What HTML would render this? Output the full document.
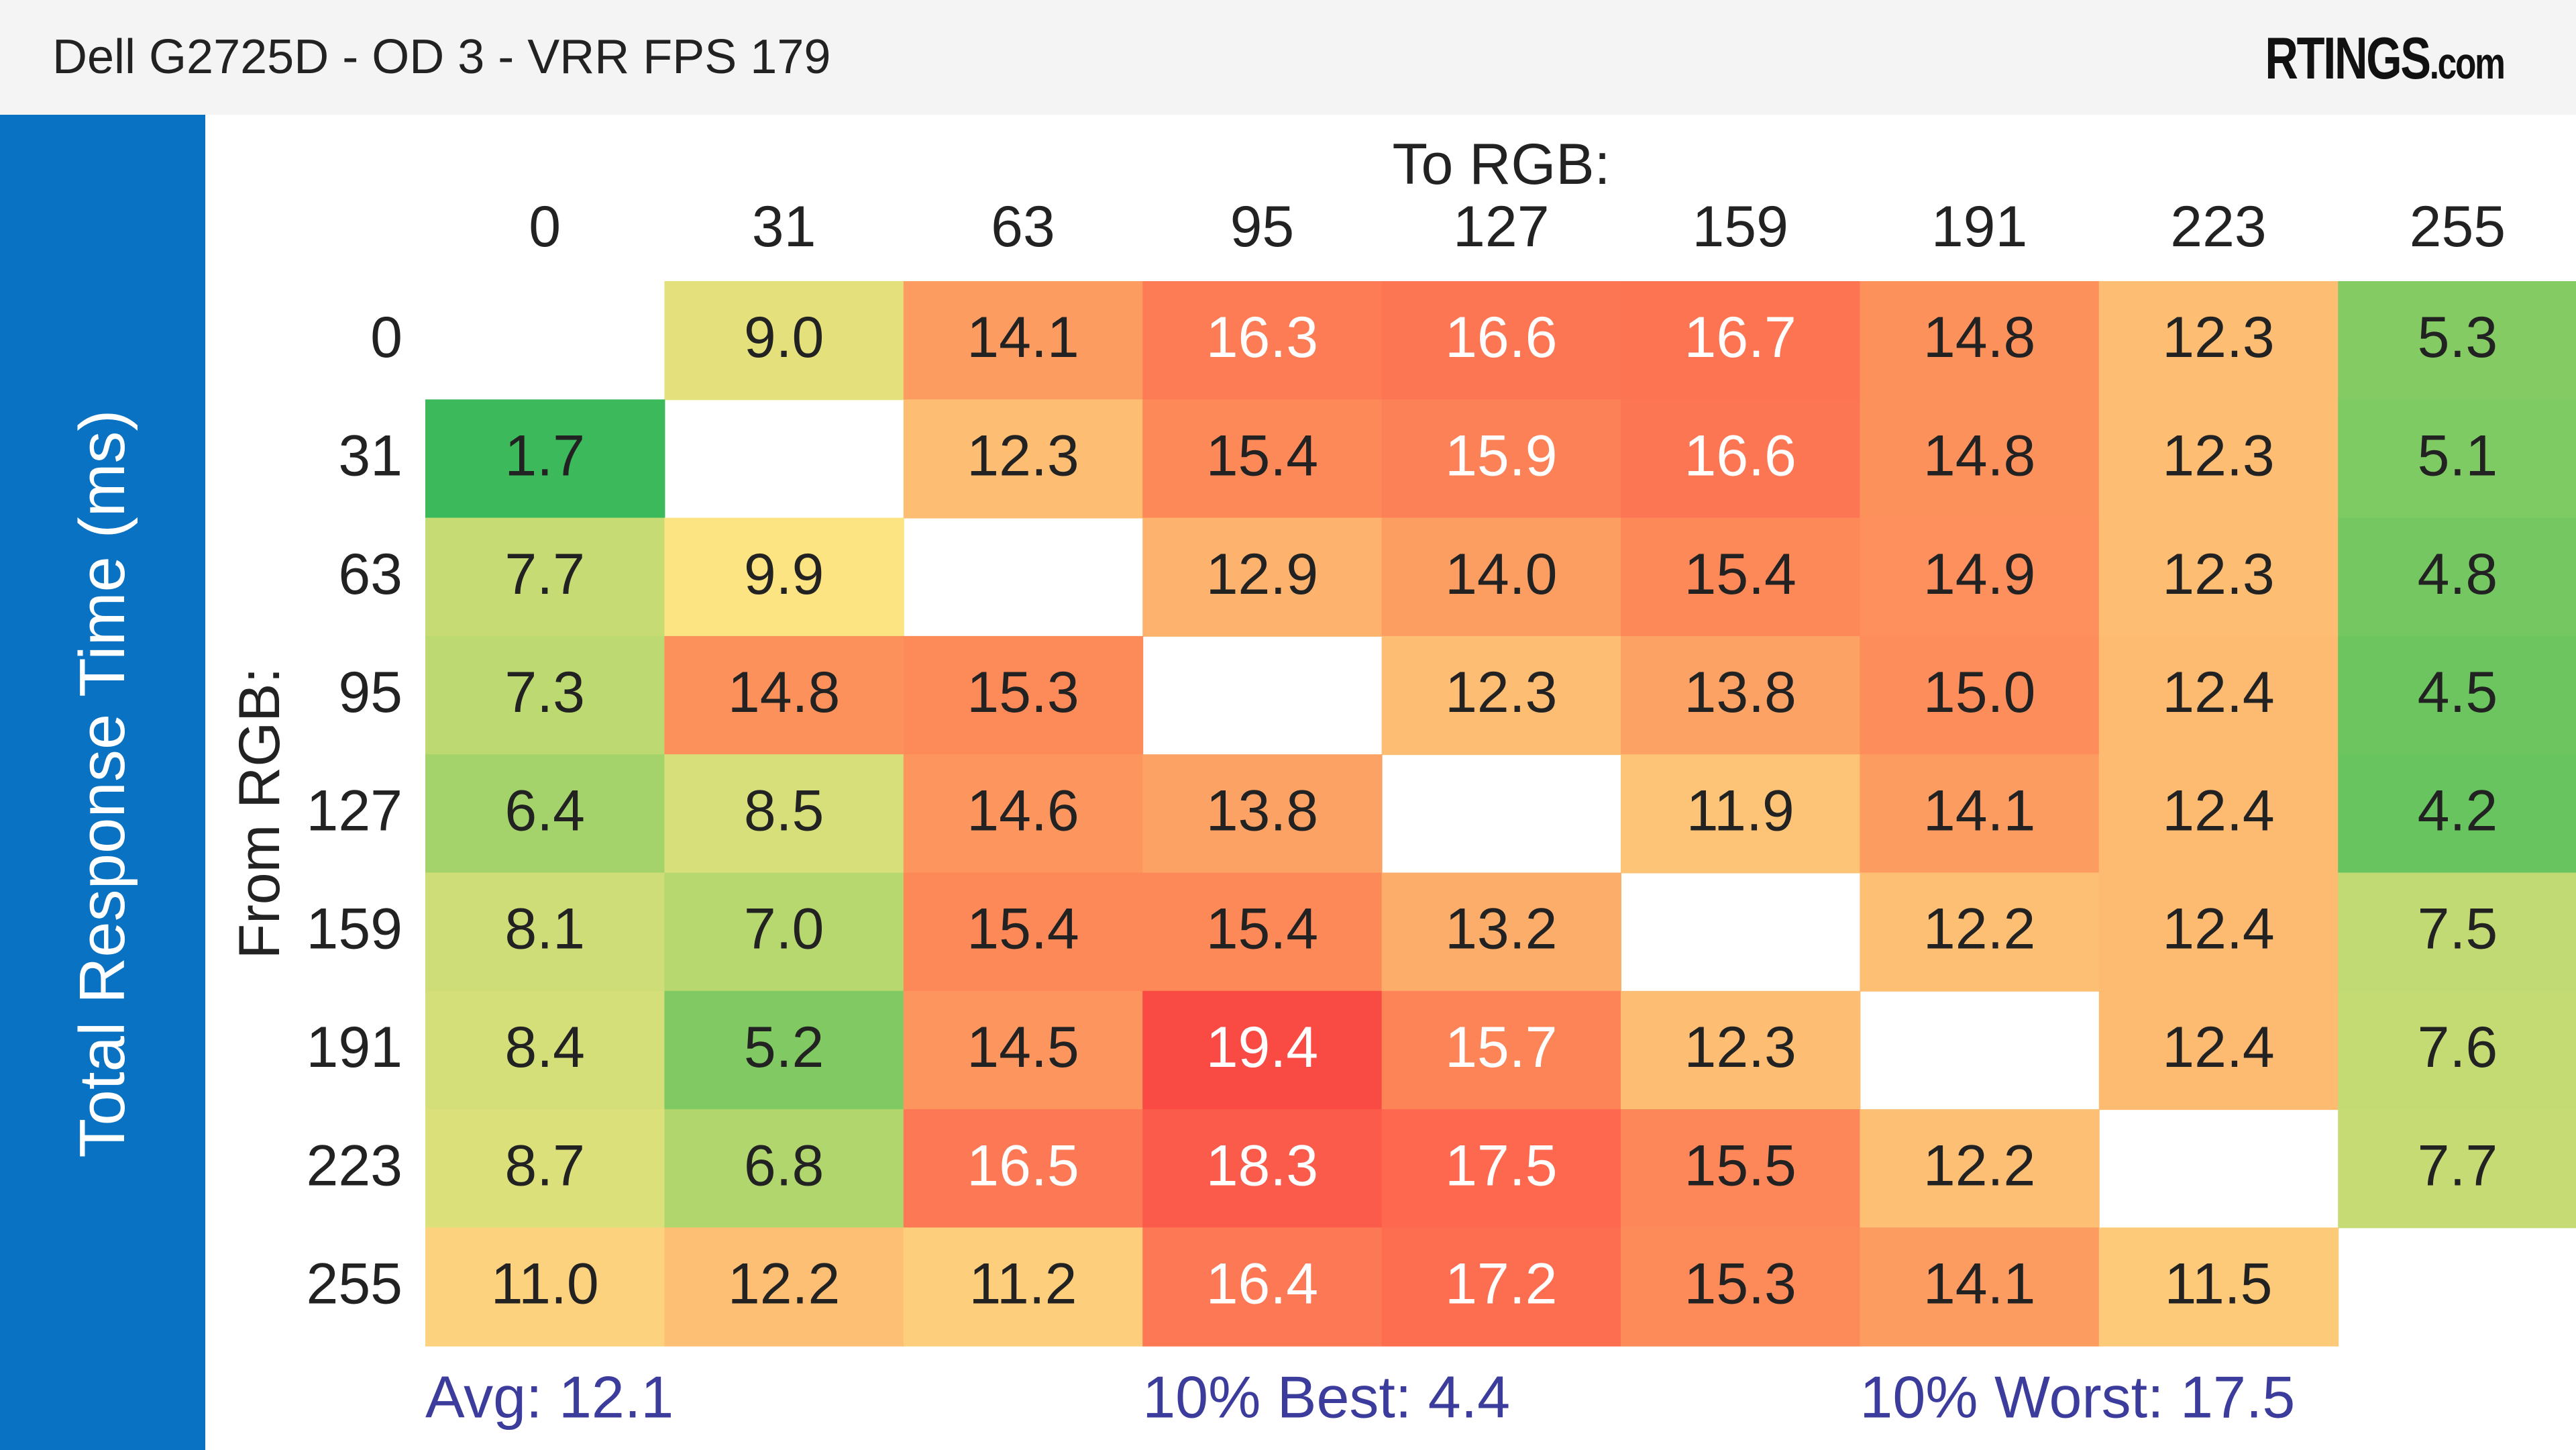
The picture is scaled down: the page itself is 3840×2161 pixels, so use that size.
<!DOCTYPE html>
<html><head><meta charset="utf-8"><style>
html,body{margin:0;padding:0;width:3840px;height:2161px;overflow:hidden;background:#fff;font-family:"Liberation Sans","DejaVu Sans",sans-serif}
#header{position:absolute;left:0;top:0;width:3840px;height:171px;background:#f4f4f4}
#title{position:absolute;left:78px;top:44px;font-size:72px;color:#222}
#logo{position:absolute;right:108px;top:36px;font-size:88px;font-weight:bold;color:#111;letter-spacing:-3px;transform:scaleX(0.78);transform-origin:right center}
#logo span{font-size:66px}
#sidebar{position:absolute;left:0;top:171px;width:306px;height:1990px;background:#0a72c2}
#ytitle{position:absolute;left:153px;top:997px;transform:translate(-50%,-50%) rotate(-90deg);white-space:nowrap;color:#fff;font-size:96px}
svg{position:absolute;left:0;top:0}
</style></head><body>
<div id="header">
<div id="title">Dell G2725D - OD 3 - VRR FPS 179</div>
<div id="logo">RTINGS<span>.com</span></div>
</div>
<div id="sidebar"><div id="ytitle">Total Response Time (ms)</div></div>
<svg id="chart" width="3840" height="2161"></svg>
<script>
const toLabels=["0","31","63","95","127","159","191","223","255"];
const fromLabels=["0","31","63","95","127","159","191","223","255"];
const row0=[null,9.0,14.1,16.3,16.6,16.7,14.8,12.3,5.3];
const row31=[1.7,null,12.3,15.4,15.9,16.6,14.8,12.3,5.1];
const row63=[7.7,9.9,null,12.9,14.0,15.4,14.9,12.3,4.8];
const row95=[7.3,14.8,15.3,null,12.3,13.8,15.0,12.4,4.5];
const row127=[6.4,8.5,14.6,13.8,null,11.9,14.1,12.4,4.2];
const row159=[8.1,7.0,15.4,15.4,13.2,null,12.2,12.4,7.5];
const row191=[8.4,5.2,14.5,19.4,15.7,12.3,null,12.4,7.6];
const row223=[8.7,6.8,16.5,18.3,17.5,15.5,12.2,null,7.7];
const row255=[11.0,12.2,11.2,16.4,17.2,15.3,14.1,11.5,null];
const values=[row0,row31,row63,row95,row127,row159,row191,row223,row255];
const statLabels=["Avg: 12.1","10% Best: 4.4","10% Worst: 17.5"];

const svg=document.getElementById('chart');
const NS='http://www.w3.org/2000/svg';
const x0=634,cw=356.4,y0=419,rh=176.3;
const xPos=i=>x0+i*cw, yPos=j=>y0+j*rh;
const stops=[[1.7,[60,185,90]],[4.5,[108,197,95]],[7,[183,216,111]],[8.5,[215,223,122]],[9.9,[251,228,129]],[11,[253,210,126]],[12.3,[253,189,115]],[14,[252,158,98]],[15.4,[253,136,88]],[16.6,[253,118,84]],[17.5,[253,104,78]],[19.4,[249,74,68]]];
function color(v){
  if(v<=stops[0][0])return 'rgb('+stops[0][1]+')';
  for(let k=1;k<stops.length;k++){if(v<=stops[k][0]){const a=stops[k-1],b=stops[k];const t=(v-a[0])/(b[0]-a[0]);return 'rgb('+a[1].map((c,i)=>Math.round(c+(b[1][i]-c)*t)).join(',')+')';}}
  return 'rgb('+stops[stops.length-1][1]+')';
}
function txt(x,y,s,size,fill,anchor,name){
  const t=document.createElementNS(NS,'text');
  t.setAttribute('x',x);t.setAttribute('y',y);t.setAttribute('font-size',size);t.setAttribute('fill',fill);
  t.setAttribute('text-anchor',anchor);t.setAttribute('dominant-baseline','central');
  t.setAttribute('font-family','"Liberation Sans","DejaVu Sans",sans-serif');
  t.textContent=s;
  
  
  svg.appendChild(t);return t;
}
values.forEach((row,j)=>row.forEach((v,i)=>{
  if(v===null)return;
  const r=document.createElementNS(NS,'rect');
  r.setAttribute('x',xPos(i));r.setAttribute('y',yPos(j));r.setAttribute('width',cw+1);r.setAttribute('height',rh+1);
  r.setAttribute('fill',color(v));
  
  
  svg.appendChild(r);
  txt(xPos(i)+cw/2,yPos(j)+rh/2-4,v.toFixed(1),86,v>=15.6?'#fff':'#222','middle','cell-value');
}));
toLabels.forEach((l,i)=>txt(xPos(i)+cw/2,338,l,86,'#222','middle','x-tick-label'));
fromLabels.forEach((l,j)=>txt(600,yPos(j)+rh/2-4,l,86,'#222','end','y-tick-label'));
txt(2238,245,'To RGB:',86,'#222','middle','x-axis-title');
const fr=txt(0,0,'From RGB:',86,'#222','middle','from-axis-title');
fr.setAttribute('transform','translate(387,1212) rotate(-90)');
const sx=[x0,xPos(3),xPos(6)];
statLabels.forEach((s,k)=>txt(sx[k],2082,s,88,'#3c3c9c','start','stat-label'));
</script>
</body></html>
